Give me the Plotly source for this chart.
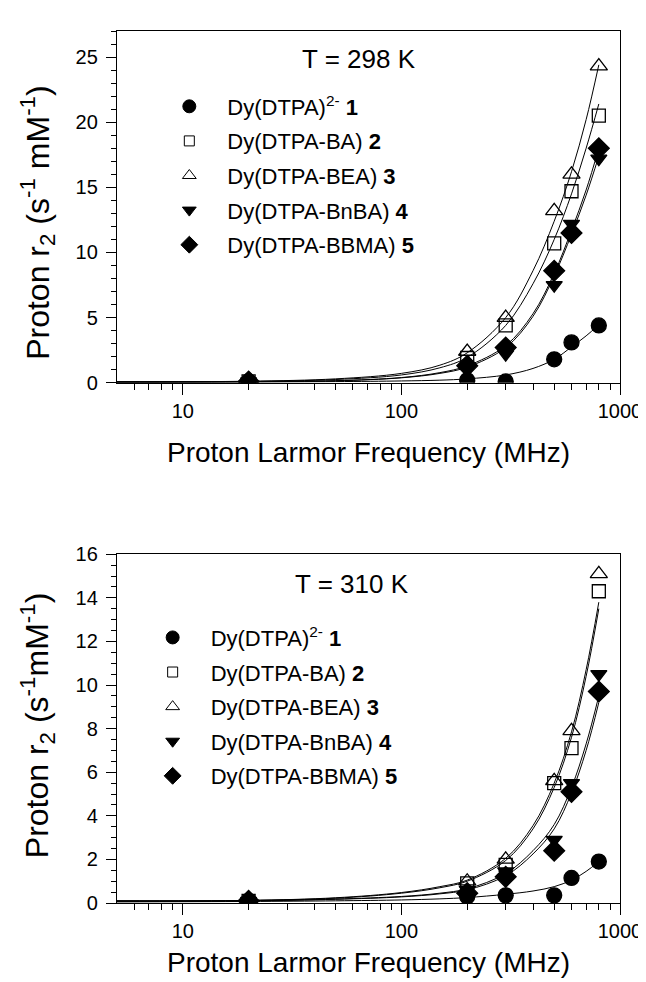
import plotly.graph_objects as go

# ---------------- data ----------------
freq = [20, 200, 300, 500, 600, 800]          # MHz, measured points
fit_freq = [5, 20, 50, 100, 150, 200, 300, 400, 500, 600, 700, 800]  # fitted curves

labels = ["Dy(DTPA)<sup>2-</sup> <b>1</b>",
          "Dy(DTPA-BA) <b>2</b>",
          "Dy(DTPA-BEA) <b>3</b>",
          "Dy(DTPA-BnBA) <b>4</b>",
          "Dy(DTPA-BBMA) <b>5</b>"]

# T = 298 K
t298_s1 = [0.1, 0.2, 0.1, 1.8, 3.1, 4.4]
t298_s2 = [0.1, 1.9, 4.4, 10.7, 14.7, 20.5]
t298_s3 = [0.1, 2.4, 5.0, 13.2, 16.0, 24.3]
t298_s4 = [0.1, 1.0, 2.2, 7.5, 12.2, 17.2]
t298_s5 = [0.1, 1.3, 2.7, 8.6, 11.5, 18.0]

t298_f1 = [0.05, 0.06, 0.09, 0.14, 0.2, 0.3, 0.6, 1.1, 1.8, 2.75, 3.6, 4.45]
t298_f2 = [0.07, 0.1, 0.25, 0.6, 1.15, 1.95, 4.4, 7.6, 11.0, 14.5, 18.0, 21.4]
t298_f3 = [0.08, 0.12, 0.3, 0.72, 1.35, 2.3, 5.0, 8.6, 12.4, 16.2, 20.2, 24.4]
t298_f4 = [0.05, 0.08, 0.15, 0.38, 0.72, 1.2, 2.7, 5.1, 8.2, 11.4, 14.4, 17.4]
t298_f5 = [0.06, 0.09, 0.16, 0.4, 0.78, 1.3, 2.85, 5.3, 8.4, 11.7, 14.8, 18.0]

# T = 310 K
t310_s1 = [0.1, 0.3, 0.35, 0.35, 1.15, 1.9]
t310_s2 = [0.1, 0.9, 1.75, 5.5, 7.1, 14.3]
t310_s3 = [0.1, 1.0, 2.0, 5.6, 7.9, 15.1]
t310_s4 = [0.1, 0.6, 1.45, 2.9, 5.5, 10.5]
t310_s5 = [0.1, 0.45, 1.2, 2.4, 5.1, 9.7]

t310_f1 = [0.05, 0.07, 0.1, 0.14, 0.19, 0.25, 0.4, 0.55, 0.75, 1.05, 1.45, 1.9]
t310_f2 = [0.1, 0.12, 0.22, 0.45, 0.7, 1.0, 1.95, 3.4, 5.3, 7.6, 10.4, 13.5]
t310_f3 = [0.1, 0.12, 0.24, 0.48, 0.75, 1.05, 2.05, 3.55, 5.5, 7.85, 10.7, 13.8]
t310_f4 = [0.08, 0.1, 0.18, 0.3, 0.45, 0.65, 1.35, 2.4, 3.6, 5.3, 7.3, 9.5]
t310_f5 = [0.08, 0.1, 0.17, 0.28, 0.42, 0.6, 1.25, 2.25, 3.4, 5.05, 7.0, 9.2]

x_ticks = [10, 100, 1000]
x_minor = [6, 7, 8, 9, 20, 30, 40, 50, 60, 70, 80, 90,
           200, 300, 400, 500, 600, 700, 800, 900]

# ---------------- styles ----------------
FONT = "Liberation Sans, Arial, Helvetica, sans-serif"
symbols = ["circle", "square-open", "triangle-up-open", "triangle-down", "diamond"]
sizes = [15, 13, 15, 14, 16]
leg_sizes = [13, 10, 12, 12, 13]

fig = go.Figure()

def add_panel(series, fits, xa, ya, legend_name, gid):
    for f in fits:
        fig.add_trace(go.Scatter(x=fit_freq, y=f, mode="lines", line=dict(color="black", width=1, shape="spline"),
                                 showlegend=False, hoverinfo="skip", xaxis=xa, yaxis=ya))
    for i, s in enumerate(series):
        fig.add_trace(go.Scatter(x=freq, y=s, mode="markers",
                                 marker=dict(symbol=symbols[i], size=sizes[i], color="black",
                                             line=dict(color="black", width=1.3)),
                                 showlegend=False, xaxis=xa, yaxis=ya))
    for i, lab in enumerate(labels):
        fig.add_trace(go.Scatter(x=[None], y=[None], mode="markers",
                                 marker=dict(symbol=symbols[i], size=leg_sizes[i], color="black",
                                             line=dict(color="black", width=1)),
                                 name=lab, legend=legend_name, legendgroup=f"{gid}{i}",
                                 showlegend=True, xaxis=xa, yaxis=ya))

add_panel([t298_s1, t298_s2, t298_s3, t298_s4, t298_s5],
          [t298_f1, t298_f2, t298_f3, t298_f4, t298_f5], "x", "y", "legend", "a")
add_panel([t310_s1, t310_s2, t310_s3, t310_s4, t310_s5],
          [t310_f1, t310_f2, t310_f3, t310_f4, t310_f5], "x2", "y2", "legend2", "b")

W, H = 646, 982
L, R, T, B = 109, 24, 15, 87
ph = H - T - B

def py(pix):  # pixel from top -> paper y
    return (H - B - pix) / ph

def px(pix):
    return (pix - L) / (W - L - R)

xcommon = dict(type="log", range=[0.69897, 3], tickvals=x_ticks, ticktext=[str(v) for v in x_ticks],
               ticks="outside", ticklen=11, tickwidth=1.2, tickcolor="black",
               showline=True, linecolor="black", linewidth=1.4, mirror=True,
               showgrid=False, zeroline=False, ticklabelstandoff=-1,
               tickfont=dict(family=FONT, size=20, color="black"),
               minor=dict(tickvals=x_minor, ticks="outside", ticklen=6, tickwidth=1, tickcolor="black", showgrid=False))
ycommon = dict(ticks="outside", ticklen=10, tickwidth=1.2, tickcolor="black",
               showline=True, linecolor="black", linewidth=1.4, mirror=True,
               showgrid=False, zeroline=False, ticklabelstandoff=4,
               tickfont=dict(family=FONT, size=20, color="black"))

def ann(text, x, y, size, angle=0):
    return dict(text=text, x=x, y=y, xref="paper", yref="paper", showarrow=False,
                xanchor="center", yanchor="middle", textangle=angle,
                font=dict(family=FONT, size=size, color="black"))

fig.update_layout(
    width=W, height=H,
    margin=dict(l=L, r=R, t=T, b=B),
    paper_bgcolor="white", plot_bgcolor="white",
    font=dict(family=FONT, color="black"),
    xaxis=dict(domain=[0, 1], anchor="y", **xcommon),
    xaxis2=dict(domain=[0, 1], anchor="y2", **xcommon),
    yaxis=dict(domain=[py(370), 1], anchor="x", range=[0, 27], tickvals=[0, 5, 10, 15, 20, 25],
               minor=dict(dtick=1, ticks="outside", ticklen=5, tickwidth=1, tickcolor="black", showgrid=False),
               **ycommon),
    yaxis2=dict(domain=[0, py(543)], anchor="x2", range=[0, 16], tickvals=[0, 2, 4, 6, 8, 10, 12, 14, 16],
                minor=dict(dtick=0.5, ticks="outside", ticklen=5, tickwidth=1, tickcolor="black", showgrid=False),
                **ycommon),
    legend=dict(x=px(144), y=py(70), xanchor="left", yanchor="top", bgcolor="rgba(0,0,0,0)",
                font=dict(family=FONT, size=22, color="black"), itemwidth=66, tracegroupgap=3,
                traceorder="grouped", itemsizing="trace"),
    legend2=dict(x=px(127), y=py(606), xanchor="left", yanchor="top", bgcolor="rgba(0,0,0,0)",
                 font=dict(family=FONT, size=22, color="black"), itemwidth=66, tracegroupgap=3,
                 traceorder="grouped", itemsizing="trace"),
    annotations=[
        ann("T = 298 K", px(356), py(43), 26),
        ann("T = 310 K", px(349), py(573), 26),
        ann("Proton Larmor Frequency (MHz)", 0.5, py(440), 28),
        ann("Proton Larmor Frequency (MHz)", 0.5, py(955), 28),
        ann("Proton r<sub>2</sub> (s<sup>-1</sup> mM<sup>-1</sup>)", px(28), py(208), 32, -90),
        ann("Proton r<sub>2</sub> (s<sup>-1</sup>mM<sup>-1</sup>)", px(28), py(716), 32, -90),
    ],
)

fig.write_html("out.html")
